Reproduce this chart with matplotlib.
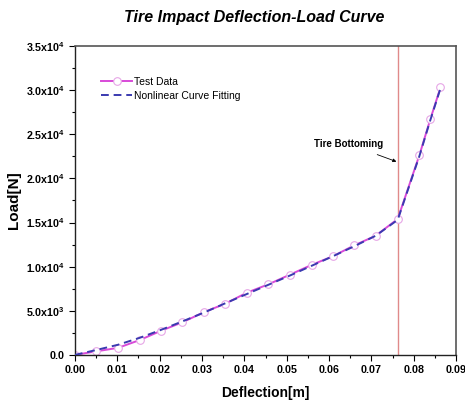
import matplotlib
matplotlib.use("Agg")
import matplotlib.pyplot as plt
from matplotlib.ticker import MultipleLocator, FuncFormatter

plt.rcParams["font.family"] = ["Liberation Sans", "DejaVu Sans"]
plt.rcParams["mathtext.fontset"] = "custom"
plt.rcParams["mathtext.rm"] = "Liberation Sans:bold"
plt.rcParams["mathtext.bf"] = "Liberation Sans:bold"
plt.rcParams["mathtext.it"] = "Liberation Sans:bold:italic"

# Test data (deflection in m, load in N)
test_defl = [0.0, 0.0050, 0.0102, 0.0154, 0.0204, 0.0254, 0.0305, 0.0355, 0.0406,
             0.0457, 0.0508, 0.0559, 0.0610, 0.0659, 0.0710, 0.0762, 0.0813, 0.0839, 0.0863]
test_load = [0, 400, 800, 1700, 2750, 3700, 4850, 5800, 7050,
             8000, 9100, 10200, 11200, 12400, 13500, 15400, 22600, 26700, 30300]

# Nonlinear curve fitting
fit_defl = test_defl
fit_load = [0, 550, 1150, 1950, 2850, 3800, 4800, 5850, 6900,
            7950, 9000, 10100, 11200, 12300, 13500, 15300, 22500, 26600, 30200]

bottoming_x = 0.0762


def sci_fmt(v, pos):
    if v == 0:
        return "0.0"
    exp = 0
    m = abs(v)
    while m >= 10:
        m /= 10
        exp += 1
    return f"{v / 10 ** exp:.1f}x10$^{{{exp}}}$"


fig = plt.figure(figsize=(4.65, 4.07), dpi=100)
ax = fig.add_axes([0.161, 0.128, 0.820, 0.759])

ax.axvline(bottoming_x, color="#e08a8a", lw=1.0, zorder=1)

ax.plot(test_defl, test_load, "-", color="#d84ad8", lw=1.4, marker="o", ms=5.5,
        mfc="white", mec="#e6a6e6", mew=0.8, label="Test Data", zorder=2)
ax.plot(fit_defl, fit_load, "--", color="#3a3ab0", lw=1.4, dashes=(4, 2.5),
        label="Nonlinear Curve Fitting", zorder=3)

ax.annotate("Tire Bottoming", xy=(bottoming_x - 0.0003, 21900), xytext=(0.0645, 23900),
            ha="center", va="center", fontsize=7, fontweight="bold",
            arrowprops=dict(arrowstyle="-|>", color="black", lw=0.6,
                            mutation_scale=5, shrinkA=6, shrinkB=0))

ax.set_xlim(0, 0.09)
ax.set_ylim(0, 35000)
ax.xaxis.set_major_locator(MultipleLocator(0.01))
ax.xaxis.set_minor_locator(MultipleLocator(0.005))
ax.yaxis.set_major_locator(MultipleLocator(5000))
ax.yaxis.set_minor_locator(MultipleLocator(2500))
ax.xaxis.set_major_formatter(FuncFormatter(lambda v, p: f"{v:.2f}"))
ax.yaxis.set_major_formatter(FuncFormatter(sci_fmt))

ax.tick_params(which="major", direction="out", length=4, width=0.8, labelsize=7.7)
ax.tick_params(which="minor", direction="out", length=2.5, width=0.8)
for lab in ax.get_xticklabels() + ax.get_yticklabels():
    lab.set_fontweight("bold")

for s in ["left", "bottom"]:
    ax.spines[s].set_color("#222222")
    ax.spines[s].set_linewidth(1.0)
for s in ["top", "right"]:
    ax.spines[s].set_color("#555555")
    ax.spines[s].set_linewidth(1.2)

ax.set_xlabel("Deflection[m]", fontsize=10, fontweight="bold", labelpad=8)
ax.set_ylabel("Load[N]", fontsize=11, fontweight="bold", labelpad=3)
ax.set_title("Tire Impact Deflection-Load Curve", fontsize=11.5, fontweight="bold",
             style="italic", pad=17, x=0.47)

leg = ax.legend(loc="upper left", bbox_to_anchor=(0.045, 0.93), frameon=False,
                fontsize=7.5, handlelength=2.9, handletextpad=0.2, labelspacing=0.35)

fig.savefig("out.png", dpi=100)
